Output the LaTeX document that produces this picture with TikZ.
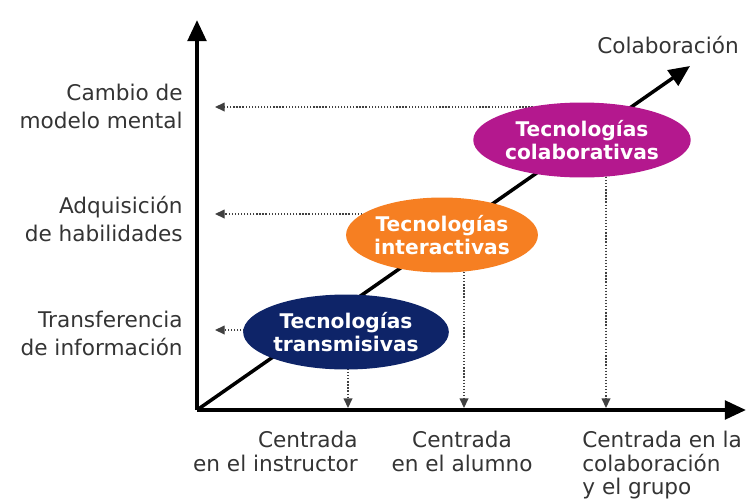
\documentclass[tikz,border=0pt]{standalone}
\usepackage{fontspec}
\setmainfont{DejaVu Sans}
\usetikzlibrary{arrows.meta,positioning,shapes.geometric,backgrounds}
\definecolor{technavy}{RGB}{14,36,104}
\definecolor{techorange}{RGB}{246,127,34}
\definecolor{techmagenta}{RGB}{180,24,142}
\definecolor{labelgray}{RGB}{52,52,52}
\tikzset
{
	axisline/.style  = {line width=2.2pt, -{Triangle[length=12pt,width=10.5pt]}},
	guideline/.style = {densely dotted, line width=0.75pt, black!75, -{Triangle[length=5.5pt,width=5pt]}},
	technode/.style  = {ellipse, inner sep=0pt, text=white, align=center, minimum width=3.6cm, minimum height=1.5cm, font=\bfseries\fontsize{11.5}{12.6}\selectfont},
	levelnode/.style = {inner sep=0pt, text=labelgray, align=right, anchor=east, font=\fontsize{12.3}{16}\selectfont},
	focusnode/.style = {inner sep=0pt, text=labelgray, font=\fontsize{12.3}{13.4}\selectfont}
}

\begin{document}
\begin{tikzpicture}[x=0.02cm, y=-0.02cm]
\useasboundingbox (0,0) rectangle (751,501);
\coordinate (origin) at (197,410);
\coordinate (ytip) at (197,20);
\coordinate (xtip) at (746,410);
\coordinate (dtip) at (690,66);
\node[technode, fill=technavy] (transmisivas) at (346,332) {Tecnologías\\transmisivas};
\node[technode, fill=techorange] (interactivas) at (442,235) {Tecnologías\\interactivas};
\node[technode, fill=techmagenta] (colaborativas) at (582,140) {Tecnologías\\colaborativas};
\node[levelnode] (cambio) at (183,106) {Cambio de\\modelo mental};
\node[levelnode] (adquisicion) at (183,219) {Adquisición\\de habilidades};
\node[levelnode] (transferencia) at (183,333) {Transferencia\\de información};
\node[focusnode, align=right, anchor=north east] (instructor) at (358,431) {Centrada\\en el instructor};
\node[focusnode, align=center, anchor=north] (alumno) at (462,431) {Centrada\\en el alumno};
\node[focusnode, align=left, anchor=north west] (grupo) at (582,431) {Centrada en la\\colaboración\\y el grupo};
\node[focusnode] (colaboracion) at (668,45) {Colaboración};
\coordinate (l1) at (215,330);
\coordinate (l2) at (215,214);
\coordinate (l3) at (215,107);
\coordinate (b1) at (348,408);
\coordinate (b2) at (464,408);
\coordinate (b3) at (606,408);
\begin{scope}[on background layer]
\draw[axisline] (origin) -- (ytip);
\draw[axisline] (origin) -- (xtip);
\draw[axisline, line width=2pt] (origin) -- (dtip);
\draw[guideline] (transmisivas.center |- l1) -- (l1);
\draw[guideline] (interactivas.center |- l2) -- (l2);
\draw[guideline] (colaborativas.center |- l3) -- (l3);
\draw[guideline] (b1 |- transmisivas.center) -- (b1);
\draw[guideline] (b2 |- interactivas.center) -- (b2);
\draw[guideline] (b3 |- colaborativas.center) -- (b3);
\end{scope}
\end{tikzpicture}
\end{document}
